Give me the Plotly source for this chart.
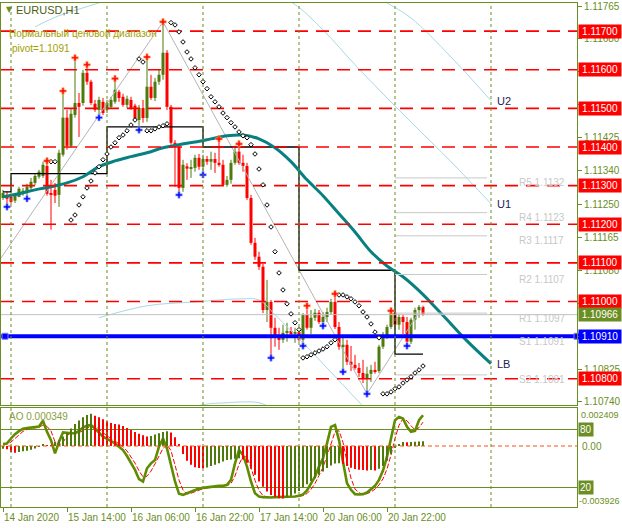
import plotly.graph_objects as go

# ---------------- data ----------------
bar_idx = list(range(106))

open_ = [1.11268, 1.11276, 1.11271, 1.11261, 1.11271, 1.11281, 1.11281, 1.11294, 1.11307, 1.11323,
         1.11325, 1.11351, 1.11281, 1.11289, 1.11276, 1.11380, 1.11476, 1.11403, 1.11483, 1.11514,
         1.11514, 1.11592, 1.11569, 1.11512, 1.11496, 1.11517, 1.11496, 1.11504, 1.11517, 1.11543,
         1.11530, 1.11509, 1.11522, 1.11507, 1.11470, 1.11501, 1.11475, 1.11556, 1.11527, 1.11569,
         1.11587, 1.11644, 1.11504, 1.11411, 1.11400, 1.11294, 1.11350, 1.11344, 1.11346, 1.11372,
         1.11349, 1.11369, 1.11362, 1.11369, 1.11359, 1.11354, 1.11302, 1.11315, 1.11359, 1.11388,
         1.11359, 1.11351, 1.11268, 1.11152, 1.11116, 1.11090, 1.10978, 1.10999, 1.10932, 1.10906,
         1.10901, 1.10919, 1.10924, 1.10916, 1.10921, 1.10901, 1.10965, 1.10932, 1.10958, 1.10971,
         1.10947, 1.10960, 1.10973, 1.10999, 1.10934, 1.10883, 1.10888, 1.10844, 1.10836, 1.10828,
         1.10815, 1.10802, 1.10813, 1.10823, 1.10820, 1.10883, 1.10909, 1.10934, 1.10971, 1.10940,
         1.10960, 1.10947, 1.10896, 1.10953, 1.10978, 1.10986]
high_ = [1.11289, 1.11284, 1.11276, 1.11281, 1.11297, 1.11294, 1.11305, 1.11320, 1.11331, 1.11341,
         1.11362, 1.11364, 1.11315, 1.11307, 1.11393, 1.11545, 1.11496, 1.11501, 1.11631, 1.11540,
         1.11600, 1.11613, 1.11574, 1.11522, 1.11530, 1.11527, 1.11522, 1.11530, 1.11577, 1.11548,
         1.11538, 1.11533, 1.11530, 1.11512, 1.11509, 1.11522, 1.11633, 1.11587, 1.11579, 1.11600,
         1.11724, 1.11651, 1.11509, 1.11418, 1.11406, 1.11367, 1.11358, 1.11367, 1.11380, 1.11382,
         1.11380, 1.11377, 1.11388, 1.11385, 1.11421, 1.11367, 1.11325, 1.11367, 1.11403, 1.11408,
         1.11380, 1.11359, 1.11276, 1.11165, 1.11129, 1.11097, 1.11056, 1.11004, 1.10958, 1.10932,
         1.10940, 1.10945, 1.10934, 1.10932, 1.10932, 1.10970, 1.10989, 1.10978, 1.10981, 1.10978,
         1.10973, 1.10984, 1.11007, 1.11020, 1.10947, 1.10909, 1.10901, 1.10885, 1.10862, 1.10841,
         1.10849, 1.10831, 1.10836, 1.10844, 1.10888, 1.10921, 1.10940, 1.10976, 1.10973, 1.10968,
         1.10966, 1.10960, 1.10958, 1.10984, 1.10991, 1.10989]
low_ = [1.11263, 1.11245, 1.11253, 1.11255, 1.11270, 1.11274, 1.11266, 1.11289, 1.11302, 1.11318,
        1.11320, 1.11274, 1.11186, 1.11255, 1.11245, 1.11375, 1.11393, 1.11398, 1.11476, 1.11426,
        1.11507, 1.11561, 1.11509, 1.11491, 1.11476, 1.11483, 1.11488, 1.11499, 1.11512, 1.11517,
        1.11504, 1.11501, 1.11496, 1.11486, 1.11444, 1.11463, 1.11465, 1.11522, 1.11519, 1.11561,
        1.11574, 1.11496, 1.11406, 1.11297, 1.11276, 1.11284, 1.11315, 1.11320, 1.11336, 1.11341,
        1.11328, 1.11354, 1.11341, 1.11333, 1.11349, 1.11299, 1.11297, 1.11305, 1.11354, 1.11354,
        1.11336, 1.11263, 1.11147, 1.11108, 1.11082, 1.10970, 1.10947, 1.10854, 1.10883, 1.10875,
        1.10893, 1.10896, 1.10906, 1.10893, 1.10896, 1.10885, 1.10927, 1.10916, 1.10950, 1.10942,
        1.10937, 1.10947, 1.10966, 1.10929, 1.10875, 1.10818, 1.10836, 1.10820, 1.10823, 1.10805,
        1.10789, 1.10761, 1.10792, 1.10813, 1.10815, 1.10877, 1.10903, 1.10929, 1.10934, 1.10927,
        1.10916, 1.10885, 1.10890, 1.10927, 1.10958, 1.10963]
close_ = [1.11281, 1.11266, 1.11258, 1.11276, 1.11292, 1.11287, 1.11297, 1.11310, 1.11325, 1.11336,
          1.11354, 1.11279, 1.11276, 1.11274, 1.11385, 1.11476, 1.11403, 1.11486, 1.11514, 1.11504,
          1.11592, 1.11569, 1.11514, 1.11496, 1.11522, 1.11488, 1.11514, 1.11522, 1.11548, 1.11527,
          1.11509, 1.11525, 1.11501, 1.11470, 1.11501, 1.11475, 1.11556, 1.11527, 1.11569, 1.11587,
          1.11644, 1.11504, 1.11411, 1.11400, 1.11294, 1.11354, 1.11344, 1.11346, 1.11372, 1.11349,
          1.11369, 1.11362, 1.11369, 1.11359, 1.11354, 1.11302, 1.11315, 1.11359, 1.11388, 1.11359,
          1.11351, 1.11268, 1.11152, 1.11116, 1.11090, 1.10978, 1.10999, 1.10932, 1.10906, 1.10901,
          1.10919, 1.10924, 1.10916, 1.10921, 1.10901, 1.10965, 1.10932, 1.10958, 1.10971, 1.10947,
          1.10960, 1.10973, 1.10999, 1.10934, 1.10883, 1.10888, 1.10844, 1.10836, 1.10828, 1.10815,
          1.10802, 1.10813, 1.10823, 1.10820, 1.10883, 1.10909, 1.10934, 1.10971, 1.10940, 1.10960,
          1.10947, 1.10896, 1.10953, 1.10978, 1.10986, 1.10966]

# Bill Williams fractals (bar indices)
fractal_up = [11, 15, 18, 21, 28, 36, 40, 54, 59, 76, 83, 97]
fractal_dn = [1, 6, 24, 34, 44, 50, 67, 75, 80, 85, 91, 101]

# Parabolic SAR
sar = [None] * 12 + [
    1.11362, 1.11362, None, None, None,
    1.11211, 1.11224, 1.11250, 1.11271, 1.11294, 1.11312, 1.11333, 1.11349, 1.11367, 1.11382,
    1.11400, 1.11411, 1.11424, 1.11431, 1.11442, 1.11457, 1.11470,
    1.11628, 1.11620,
    1.11442, 1.11442, 1.11447, 1.11452, 1.11455, 1.11460,
    1.11722, 1.11716, 1.11698, 1.11672, 1.11646, 1.11628, 1.11605, 1.11587, 1.11569, 1.11551,
    1.11530, 1.11517, 1.11504, 1.11488, 1.11476, 1.11463, 1.11452, 1.11439, 1.11429, 1.11424,
    1.11406, 1.11382, 1.11343, 1.11302, 1.11250, 1.11193, 1.11129, 1.11074, 1.11030, 1.10994,
    1.10968, 1.10945, 1.10927,
    1.10854, 1.10857, 1.10862, 1.10867, 1.10872, 1.10877, 1.10883, 1.10893, 1.10901,
    1.11017, 1.11017, 1.11012, 1.11007, 1.10999, 1.10989, 1.10973, 1.10960, 1.10942, 1.10921, 1.10906,
    1.10761, 1.10761, 1.10766, 1.10774, 1.10779, 1.10789, 1.10797, 1.10805, 1.10815, 1.10823, 1.10833]

# moving-average line, extended forward to the LB point
ma_bars = [0, 4, 8, 12, 16, 20, 24, 28, 32, 36, 40, 44, 48, 52, 56, 60, 64, 68, 72, 76,
           80, 84, 88, 92, 96, 100, 104, 108, 112, 116, 122]
ma_vals = [1.11271, 1.11279, 1.11289, 1.11297, 1.11307, 1.11323, 1.11349, 1.11364, 1.11375, 1.11385,
           1.11398, 1.11406, 1.11413, 1.11421, 1.11429, 1.11431, 1.11421, 1.11398, 1.11362, 1.11315,
           1.11274, 1.11227, 1.11180, 1.11129, 1.11092, 1.11064, 1.11028, 1.10986, 1.10942, 1.10898,
           1.10839]

# daily reference level (step line)
day_bars = [0, 2, 26, 50, 74, 98, 105]
day_vals = [1.11284, 1.11331, 1.11452, 1.11400, 1.11081, 1.10864, 1.10864]

# zigzag swing points
zz_bars = [-2, 40, 91, 105]
zz_vals = [1.11090, 1.11724, 1.10761, 1.10989]

# regression channel bands
u1_bars = [8, 14, 24, 36, 48, 60, 72, 80, 88, 96, 104, 112, 122]
u1_vals = [1.11711, 1.11740, 1.11773, 1.11817, 1.11835, 1.11825, 1.11776, 1.11703, 1.11613,
           1.11527, 1.11444, 1.11362, 1.11253]
u2_bars = [90, 96, 102, 112, 122]
u2_vals = [1.11807, 1.11773, 1.11734, 1.11633, 1.11520]
l1_bars = [24, 36, 48, 60, 64, 68, 72, 76, 80, 84, 88, 92]
l1_vals = [1.10958, 1.10989, 1.10999, 1.11007, 1.11004, 1.10966, 1.10924, 1.10883, 1.10839,
           1.10795, 1.10751, 1.10707]
l2_bars = [44, 50, 56, 60, 64, 68]
l2_vals = [1.10714, 1.10733, 1.10738, 1.10740, 1.10738, 1.10720]

# round-number levels and daily pivots
round_levels = [1.117, 1.116, 1.115, 1.114, 1.113, 1.112, 1.111, 1.110, 1.108]
pivot = 1.1091
pivot_names = ["R5", "R4", "R3", "R2", "R1", "S1", "S2"]
pivot_vals = [1.1132, 1.1123, 1.1117, 1.1107, 1.1097, 1.1091, 1.1081]
pivot_span = [98, 121]

price_ticks = [1.11765, 1.11680, 1.11595, 1.11510, 1.11425, 1.11340, 1.11250, 1.11165,
               1.11080, 1.10995, 1.10910, 1.10825, 1.10740]
# tick labels that sit under a price box are not printed
hidden_ticks = [1.11595, 1.11510, 1.10995, 1.10910]

# Awesome Oscillator
ao = [-0.00020, -0.00025, -0.00045, -0.00050, -0.00045, -0.00040, -0.00035, -0.00028, -0.00018, -0.00005,
      0.00008, 0.00005, 0.00002, 0.00030, 0.00045, 0.00070, 0.00100, 0.00130, 0.00165, 0.00190,
      0.00215, 0.00232, 0.002409, 0.00225, 0.00215, 0.00200, 0.00185, 0.00172, 0.00165, 0.00160,
      0.00150, 0.00135, 0.00120, 0.00105, 0.00092, 0.00080, 0.00070, 0.00075, 0.00085, 0.00095,
      0.00105, 0.00110, 0.00100, 0.00065, 0.00010, -0.00060, -0.00110, -0.00140, -0.00158, -0.00165,
      -0.00166, -0.00160, -0.00150, -0.00140, -0.00128, -0.00115, -0.00105, -0.00100, -0.00095, -0.00092,
      -0.00100, -0.00125, -0.00170, -0.00215, -0.00265, -0.00305, -0.00340, -0.00365, -0.00380, -0.00389,
      -0.003926, -0.00385, -0.00372, -0.00355, -0.00335, -0.00310, -0.00285, -0.00262, -0.00240, -0.00215,
      -0.00190, -0.00165, -0.00145, -0.00130, -0.00128, -0.00135, -0.00150, -0.00162, -0.00172, -0.00178,
      -0.00180, -0.00182, -0.00180, -0.00183, -0.00170, -0.00150, -0.00110, -0.00060, -0.00015, 0.00010,
      0.00030, 0.00028, 0.00030, 0.00032, 0.00033, 0.000349]

# Stochastic %K / %D
stoch_k = [64.9, 65.6, 70.7, 75.2, 78.3, 80.7, 81.4, 81.7, 82.0, 83.0,
           89.0, 77.6, 69.0, 55.3, 67.3, 77.0, 76.6, 75.9, 75.9, 78.6,
           82.0, 84.0, 84.5, 81.0, 76.6, 72.5, 70.4, 68.3, 65.6, 62.2,
           58.7, 52.6, 45.0, 38.2, 28.6, 26.2, 39.9, 45.0, 48.4, 62.2,
           70.7, 60.4, 43.3, 26.2, 13.5, 12.4, 14.1, 15.9, 17.6, 18.9,
           19.6, 20.3, 21.0, 21.7, 21.7, 21.7, 22.7, 27.9, 45.0, 58.7,
           53.6, 41.6, 26.2, 14.1, 10.7, 10.0, 9.7, 9.7, 10.0, 10.0,
           10.0, 10.4, 10.4, 10.7, 11.4, 12.8, 16.9, 24.4, 31.3, 41.6,
           50.2, 65.6, 82.7, 84.5, 69.0, 46.7, 24.4, 17.6, 13.1, 12.8,
           13.1, 14.8, 18.3, 21.7, 27.9, 37.5, 51.9, 70.7, 89.6, 93.0,
           91.3, 82.7, 77.6, 78.6, 89.6, 94.7]
stoch_d = [64.0, 65.0, 67.0, 70.5, 74.7, 78.0, 80.0, 81.3, 81.7, 82.2,
           84.7, 83.2, 78.5, 67.3, 63.9, 66.5, 73.6, 76.5, 76.1, 76.8,
           78.8, 81.5, 83.5, 83.2, 80.7, 76.7, 73.2, 70.4, 68.1, 65.4,
           62.2, 57.8, 52.1, 45.3, 37.3, 31.0, 31.6, 37.0, 44.4, 51.9,
           60.4, 64.4, 58.1, 43.3, 27.7, 17.4, 13.3, 14.1, 15.9, 17.5,
           18.7, 19.6, 20.3, 21.0, 21.5, 21.7, 22.0, 24.1, 31.9, 43.9,
           52.4, 51.3, 40.5, 27.3, 17.0, 11.6, 10.1, 9.8, 9.8, 9.9,
           10.0, 10.1, 10.3, 10.5, 10.8, 11.6, 13.7, 18.0, 24.2, 32.4,
           41.0, 52.5, 66.2, 77.6, 78.7, 66.7, 46.7, 29.6, 18.4, 14.5,
           13.0, 13.6, 15.4, 18.3, 22.6, 29.0, 39.1, 53.4, 70.7, 84.4,
           91.3, 89.0, 83.9, 79.6, 81.9, 87.6]
stoch_levels = [80, 20]

date_bars = [0, 16, 32, 48, 64, 80, 96]
date_text = ["14 Jan 2020", "15 Jan 14:00", "16 Jan 06:00", "16 Jan 22:00",
             "17 Jan 14:00", "20 Jan 06:00", "20 Jan 22:00"]
day_separators = [2, 26, 50, 74, 98, 122]

# ---------------- styling ----------------
OLIVE = "#6b8e23"
BULL = "#4e7a0c"
BEAR = "#ff0000"
FONT = "Liberation Sans"
W, H = 622, 528
ML, MR, MT, MB = 1, 45, 3, 21
PLOT_H = H - MT - MB


def px(xpix):
    return (xpix - ML) / (W - ML - MR)


def py(ypix):
    return (H - MB - ypix) / PLOT_H


fig = go.Figure()

# candle wicks and bodies
for bullish, color in ((True, BULL), (False, BEAR)):
    sel = [i for i in bar_idx if (close_[i] >= open_[i]) == bullish]
    wx, wy = [], []
    for i in sel:
        wx += [i, i, None]
        wy += [low_[i], high_[i], None]
    fig.add_trace(go.Scatter(x=wx, y=wy, mode="lines", line=dict(color=color, width=1),
                             hoverinfo="skip", xaxis="x", yaxis="y"))
    fig.add_trace(go.Bar(x=sel, base=[min(open_[i], close_[i]) for i in sel],
                         y=[abs(close_[i] - open_[i]) for i in sel], width=0.75,
                         marker=dict(color=color, line=dict(width=0)),
                         hoverinfo="skip", xaxis="x", yaxis="y"))

# regression channel bands
for bx, bv in ((u1_bars, u1_vals), (u2_bars, u2_vals), (l1_bars, l1_vals), (l2_bars, l2_vals)):
    fig.add_trace(go.Scatter(x=bx, y=bv, mode="lines", line=dict(color="#a9d8e6", width=1, shape="spline"),
                             hoverinfo="skip", xaxis="x", yaxis="y"))

# zigzag
fig.add_trace(go.Scatter(x=zz_bars, y=zz_vals, mode="lines", line=dict(color="#b4b4b4", width=1),
                         hoverinfo="skip", xaxis="x", yaxis="y"))

# daily reference step line
fig.add_trace(go.Scatter(x=day_bars, y=day_vals, mode="lines", line=dict(color="#000000", width=1.3, shape="hv"),
                         hoverinfo="skip", xaxis="x", yaxis="y"))

# moving average
fig.add_trace(go.Scatter(x=ma_bars, y=ma_vals, mode="lines", line=dict(color="#088080", width=3, shape="spline"),
                         hoverinfo="skip", xaxis="x", yaxis="y"))

# pivot levels (gray segments)
for v in pivot_vals:
    fig.add_trace(go.Scatter(x=pivot_span, y=[v, v], mode="lines", line=dict(color="#c8c8c8", width=1),
                             hoverinfo="skip", xaxis="x", yaxis="y"))

# bid line
fig.add_trace(go.Scatter(x=[-0.5, 143.5], y=[close_[-1]] * 2, mode="lines", line=dict(color="#c0c0c0", width=1),
                         hoverinfo="skip", xaxis="x", yaxis="y"))

# round-number levels
for lv in round_levels:
    fig.add_trace(go.Scatter(x=[-0.5, 143.5], y=[lv, lv], mode="lines",
                             line=dict(color="#ff0000", width=1.6, dash="13px,8px"),
                             hoverinfo="skip", xaxis="x", yaxis="y"))

# main pivot line
fig.add_trace(go.Scatter(x=[-0.5, 143.5], y=[pivot, pivot], mode="lines", line=dict(color="#0000ff", width=4),
                         hoverinfo="skip", xaxis="x", yaxis="y"))
fig.add_trace(go.Scatter(x=[0.5, 143.5], y=[pivot, pivot], mode="markers", cliponaxis=False,
                         marker=dict(symbol="square", size=6, color="#0000ff", line=dict(color="#8080ff", width=1)),
                         hoverinfo="skip", xaxis="x", yaxis="y"))

# parabolic SAR
fig.add_trace(go.Scatter(x=bar_idx, y=sar, mode="markers",
                         marker=dict(symbol="diamond", size=3.5, color="white", line=dict(color="black", width=1)),
                         hoverinfo="skip", xaxis="x", yaxis="y"))

# fractals
fig.add_trace(go.Scatter(x=fractal_up, y=[high_[i] for i in fractal_up], mode="markers",
                         marker=dict(symbol="cross", size=5.5, color="#ff1010", line=dict(color="#ffb060", width=0.6)),
                         hoverinfo="skip", xaxis="x", yaxis="y"))
fig.add_trace(go.Scatter(x=fractal_dn, y=[low_[i] for i in fractal_dn], mode="markers",
                         marker=dict(symbol="cross", size=5.5, color="#1010ff", line=dict(color="#a0b8ff", width=0.6)),
                         hoverinfo="skip", xaxis="x", yaxis="y"))

# ---- oscillator window ----
ao_colors = [BULL if (i == 0 or ao[i] >= ao[i - 1]) else BEAR for i in bar_idx]
fig.add_trace(go.Bar(x=bar_idx, y=ao, width=0.28, marker=dict(color=ao_colors, line=dict(width=0)),
                     hoverinfo="skip", xaxis="x2", yaxis="y3"))
fig.add_trace(go.Scatter(x=[-0.5, 143.5], y=[0, 0], mode="lines",
                         line=dict(color="#ff5010", width=1, dash="4px,3px"),
                         hoverinfo="skip", xaxis="x2", yaxis="y3"))
for lv in stoch_levels:
    fig.add_trace(go.Scatter(x=[-0.5, 143.5], y=[lv, lv], mode="lines", line=dict(color=OLIVE, width=1),
                             hoverinfo="skip", xaxis="x2", yaxis="y2"))
fig.add_trace(go.Scatter(x=bar_idx, y=stoch_d, mode="lines", line=dict(color="#ff0000", width=1, dash="5px,2px"),
                         hoverinfo="skip", xaxis="x2", yaxis="y2"))
fig.add_trace(go.Scatter(x=bar_idx, y=stoch_k, mode="lines", line=dict(color="#5f8c00", width=2.6),
                         hoverinfo="skip", xaxis="x2", yaxis="y2"))

# day separators across both windows
shapes = []
for s in day_separators:
    shapes.append(dict(type="line", xref="x", yref="paper", x0=s, x1=s, y0=0, y1=1,
                       line=dict(color=OLIVE, width=1, dash="3px,3px"), layer="above"))

# ---------------- annotations ----------------
ann = []


def label_box(yval, text, bg, yref="y"):
    ann.append(dict(xref="paper", x=1, xshift=1, xanchor="left", yref=yref, y=yval, yanchor="middle",
                    text=text, showarrow=False, bgcolor=bg, width=40, height=11, borderpad=1,
                    font=dict(family=FONT, size=10, color="white")))


for lv in round_levels:
    label_box(lv, f"{lv:.5f}", "#ff0000")
label_box(close_[-1], f"{close_[-1]:.5f}", OLIVE)
label_box(pivot, f"{pivot:.5f}", "#0000ff")

for name, v in zip(pivot_names, pivot_vals):
    ann.append(dict(xref="x", x=128.5, xanchor="left", yref="y", y=v, yanchor="middle", yshift=-5,
                    text=f"{name} {v:.4f}", showarrow=False,
                    font=dict(family=FONT, size=10, color="#c8c8c8")))

for txt, bx, bv in (("U2", u2_bars, u2_vals), ("U1", u1_bars, u1_vals), ("LB", ma_bars, ma_vals)):
    ann.append(dict(xref="x", x=bx[-1], xanchor="left", xshift=4, yref="y", y=bv[-1], yanchor="middle",
                    text=txt, showarrow=False, font=dict(family=FONT, size=11, color="#1c1c50")))

ann.append(dict(xref="paper", x=px(4), yref="paper", y=py(10), xanchor="left", yanchor="middle",
                text="▼", showarrow=False, font=dict(family="DejaVu Sans", size=8, color=OLIVE)))
ann.append(dict(xref="paper", x=px(14), yref="paper", y=py(10), xanchor="left", yanchor="middle",
                text="EURUSD,H1", showarrow=False, font=dict(family=FONT, size=11, color="#4c5e14")))
ann.append(dict(xref="paper", x=px(7), yref="paper", y=py(33), xanchor="left", yanchor="middle",
                text="Нормальный ценовой диапазон", showarrow=False,
                font=dict(family=FONT, size=10, color="#a39e00")))
ann.append(dict(xref="paper", x=px(10), yref="paper", y=py(48), xanchor="left", yanchor="middle",
                text=f"pivot={pivot:.4f}", showarrow=False,
                font=dict(family=FONT, size=10, color="#a39e00")))
ann.append(dict(xref="paper", x=px(7), yref="paper", y=py(416), xanchor="left", yanchor="middle",
                text=f"AO {ao[-1]:.6f}", showarrow=False,
                font=dict(family=FONT, size=10, color="#8aa040")))

# oscillator scale labels
ann.append(dict(xref="paper", x=1, xshift=2, xanchor="left", yref="paper", y=py(415), yanchor="middle",
                text=f"{max(ao):.6f}", showarrow=False, font=dict(family=FONT, size=9, color=OLIVE)))
ann.append(dict(xref="paper", x=1, xshift=0, xanchor="left", yref="paper", y=py(501), yanchor="middle",
                text=f"{min(ao):.6f}", showarrow=False, font=dict(family=FONT, size=9, color=OLIVE)))
ann.append(dict(xref="paper", x=1, xshift=3, xanchor="left", yref="y3", y=0, yanchor="middle",
                text="0.00", showarrow=False, font=dict(family=FONT, size=10, color=OLIVE)))
for lv in stoch_levels:
    ann.append(dict(xref="paper", x=1, xshift=1, xanchor="left", yref="y2", y=lv, yanchor="middle",
                    text=str(lv), showarrow=False, bgcolor=OLIVE, borderpad=1,
                    font=dict(family=FONT, size=10, color="white")))

for b, t in zip(date_bars, date_text):
    ann.append(dict(xref="x2", x=b, xanchor="left", xshift=-1, yref="paper", y=py(517), yanchor="middle",
                    text=t, showarrow=False, font=dict(family=FONT, size=10, color=OLIVE)))

# ---------------- layout ----------------
main_bottom = py(405)
sub_top = py(408)

fig.update_layout(
    width=W, height=H, margin=dict(l=ML, r=MR, t=MT, b=MB),
    paper_bgcolor="white", plot_bgcolor="white", showlegend=False, barmode="overlay",
    shapes=shapes, annotations=ann, hovermode=False,
    xaxis=dict(domain=[0, 1], range=[-0.5, 143.5], anchor="y", showgrid=False, zeroline=False,
               showticklabels=False, ticks="", showline=True, mirror=True, linecolor=OLIVE, linewidth=1),
    yaxis=dict(domain=[main_bottom, 1], range=[1.107321, 1.117728], side="right", anchor="x",
               showgrid=False, zeroline=False, showline=True, mirror=True, linecolor=OLIVE, linewidth=1,
               tickvals=price_ticks,
               ticktext=["" if t in hidden_ticks else f"{t:.5f}" for t in price_ticks],
               ticks="outside", ticklen=4, tickcolor=OLIVE,
               tickfont=dict(family=FONT, size=10, color=OLIVE)),
    xaxis2=dict(domain=[0, 1], range=[-0.5, 143.5], anchor="y2", showgrid=False, zeroline=False,
                showline=True, mirror=True, linecolor=OLIVE, linewidth=1,
                tickvals=date_bars, ticktext=[""] * len(date_bars), ticks="outside", ticklen=4,
                tickcolor=OLIVE),
    yaxis2=dict(domain=[0, sub_top], range=[-0.17, 102.24], anchor="x2", showgrid=False, zeroline=False,
                showticklabels=False, ticks="", showline=True, mirror=True, linecolor=OLIVE, linewidth=1),
    yaxis3=dict(overlaying="y2", anchor="x2", range=[-0.004552, 0.002836], visible=False),
)

fig.write_html("out.html", config={"displayModeBar": False})
